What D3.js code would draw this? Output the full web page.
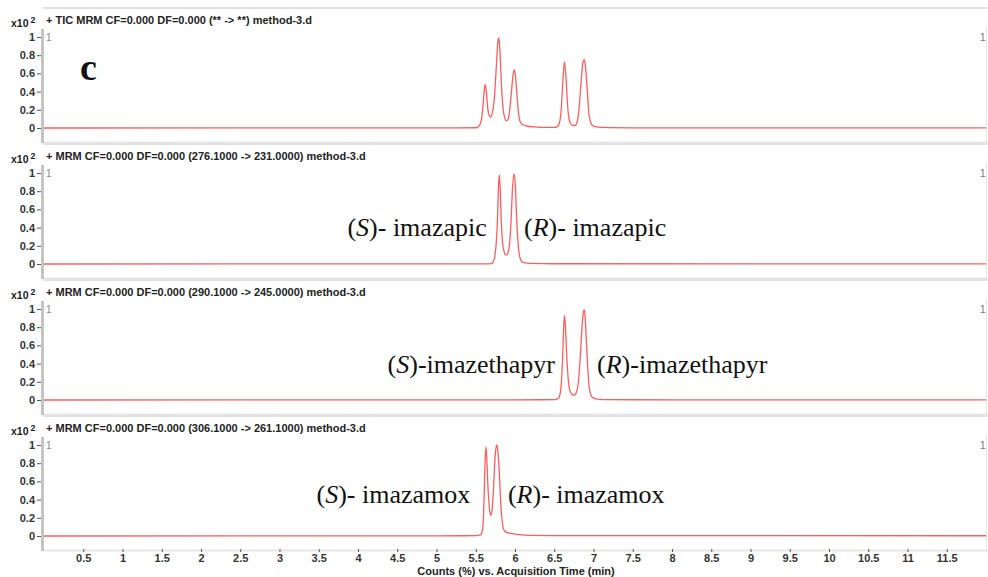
<!DOCTYPE html>
<html>
<head>
<meta charset="utf-8">
<script src="https://cdn.jsdelivr.net/npm/d3@7"></script>
<style>
  body { margin: 0; background: #fff; }
  text { font-family: "Liberation Sans", Arial, sans-serif; }
</style>
</head>
<body>
<div id="chart"></div>
<script>
// panel titles
var titles = [
    "+ TIC MRM CF=0.000 DF=0.000 (** -> **) method-3.d",
    "+ MRM CF=0.000 DF=0.000 (276.1000 -> 231.0000) method-3.d",
    "+ MRM CF=0.000 DF=0.000 (290.1000 -> 245.0000) method-3.d",
    "+ MRM CF=0.000 DF=0.000 (306.1000 -> 261.1000) method-3.d"
];

var xTicks = [0.5,1,1.5,2,2.5,3,3.5,4,4.5,5,5.5,6,6.5,7,7.5,8,8.5,9,9.5,10,10.5,11,11.5];
var yTicks = [0, 0.2, 0.4, 0.6, 0.8, 1];

// traces: [time (min), counts x10^2]
var ticTrace = [
    [0,0],[5.0,0.002],[5.5,0.003],[5.54,0.02],[5.57,0.08],[5.59,0.22],[5.605,0.38],[5.62,0.48],
    [5.635,0.40],[5.65,0.24],[5.67,0.14],[5.69,0.12],[5.71,0.16],[5.74,0.36],[5.765,0.72],
    [5.78,0.93],[5.79,0.99],[5.80,0.95],[5.815,0.72],[5.83,0.42],[5.85,0.20],[5.87,0.11],
    [5.89,0.08],[5.91,0.09],[5.93,0.18],[5.955,0.40],[5.975,0.58],[5.99,0.64],[6.005,0.58],
    [6.025,0.36],[6.045,0.16],[6.07,0.06],[6.10,0.035],[6.15,0.022],[6.25,0.012],[6.40,0.006],
    [6.50,0.006],[6.54,0.015],[6.57,0.07],[6.59,0.22],[6.61,0.52],[6.63,0.73],[6.65,0.55],
    [6.67,0.25],[6.69,0.09],[6.72,0.035],[6.75,0.025],[6.78,0.04],[6.81,0.16],[6.84,0.48],
    [6.865,0.72],[6.88,0.75],[6.895,0.70],[6.92,0.42],[6.94,0.17],[6.97,0.05],[7.0,0.02],
    [7.05,0.01],[7.2,0.004],[7.5,0.002],[12,0.002]
];
var imazapicTrace = [
    [0,0],[5.0,0.002],[5.6,0.002],[5.70,0.005],[5.72,0.02],[5.74,0.07],[5.76,0.22],[5.775,0.45],
    [5.79,0.85],[5.80,0.98],[5.81,0.85],[5.825,0.48],[5.84,0.25],[5.86,0.14],[5.88,0.10],
    [5.895,0.10],[5.91,0.12],[5.93,0.22],[5.95,0.48],[5.97,0.86],[5.99,0.99],[6.005,0.86],
    [6.02,0.52],[6.04,0.22],[6.06,0.08],[6.08,0.035],[6.11,0.015],[6.2,0.006],[6.5,0.003],[12,0.002]
];
var imazethapyrTrace = [
    [0,0],[6.0,0.002],[6.50,0.004],[6.55,0.015],[6.575,0.07],[6.595,0.25],[6.61,0.55],[6.62,0.80],
    [6.63,0.93],[6.64,0.84],[6.655,0.56],[6.675,0.26],[6.70,0.10],[6.73,0.06],[6.755,0.055],
    [6.78,0.08],[6.81,0.22],[6.835,0.52],[6.855,0.82],[6.87,0.96],[6.88,0.99],[6.89,0.95],
    [6.905,0.72],[6.925,0.38],[6.945,0.14],[6.97,0.05],[7.0,0.02],[7.05,0.01],[7.2,0.004],
    [8,0.002],[12,0.002]
];
var imazamoxTrace = [
    [0,0],[5.0,0.002],[5.50,0.004],[5.56,0.012],[5.585,0.06],[5.60,0.25],[5.61,0.55],[5.62,0.85],
    [5.63,0.98],[5.64,0.86],[5.655,0.55],[5.67,0.34],[5.685,0.24],[5.695,0.23],[5.71,0.30],
    [5.725,0.50],[5.74,0.78],[5.755,0.95],[5.77,1.0],[5.785,0.90],[5.80,0.70],[5.815,0.42],
    [5.83,0.22],[5.845,0.11],[5.86,0.065],[5.88,0.045],[5.95,0.028],[6.05,0.015],[6.2,0.006],
    [6.5,0.004],[12,0.003]
];
var traces = [ticTrace, imazapicTrace, imazethapyrTrace, imazamoxTrace];

// compound labels: [italic letter, rest, anchor time, anchor side, height]
var labels = [
    [],
    [["S", ")- imazapic", 5.64, "end", 0.31], ["R", ")- imazapic", 6.115, "start", 0.31]],
    [["S", ")-imazethapyr", 6.51, "end", 0.30], ["R", ")-imazethapyr", 7.045, "start", 0.30]],
    [["S", ")- imazamox", 5.43, "end", 0.36], ["R", ")- imazamox", 5.91, "start", 0.36]]
];

var width = 988, height = 577;
var panelStep = 136;
var serif = "'Liberation Serif', 'Times New Roman', Times, serif";

var svg = d3.select("#chart")
            .append("svg")
            .attr("width", width)
            .attr("height", height);

var x = d3.scaleLinear()
        .domain([0, 12])
        .range([44, 986]);

var line_color = "#ff5c5c";

for (var i = 0; i < traces.length; i++) {
    var off = i * panelStep;
    var g = svg.append("g");

    var y = d3.scaleLinear()
            .domain([0, 1])
            .range([128 + off, 37 + off]);

    // frame lines
    g.append("line")
        .attr("x1", 43).attr("x2", 988)
        .attr("y1", 8 + off).attr("y2", 8 + off)
        .attr("stroke", "#e2e2e2").attr("stroke-width", 2);
    g.append("line")
        .attr("x1", 43).attr("x2", 988)
        .attr("y1", 142.5 + off).attr("y2", 142.5 + off)
        .attr("stroke", "#e6e6e6").attr("stroke-width", 2);
    g.append("line")
        .attr("x1", 986.5).attr("x2", 986.5)
        .attr("y1", 28 + off).attr("y2", 142 + off)
        .attr("stroke", "#e6e6e6").attr("stroke-width", 1);

    // header
    g.append("text")
        .attr("x", 46).attr("y", 24 + off)
        .attr("font-size", "11px").attr("font-weight", "bold")
        .attr("fill", "#222")
        .text(titles[i]);
    var xt = g.append("text")
        .attr("x", 11).attr("y", 27 + off)
        .attr("font-size", "10.5px").attr("font-weight", "bold")
        .attr("fill", "#222");
    xt.append("tspan").text("x10");
    xt.append("tspan").attr("dx", 2).attr("dy", -4).attr("font-size", "9px").text("2");

    // left axis
    g.append("rect")
        .attr("x", 41).attr("y", 29 + off)
        .attr("width", 3).attr("height", 114)
        .attr("fill", "#c4c4c4");
    var ax = g.append("g")
        .attr("transform", "translate(41,0)")
        .call(d3.axisLeft(y).tickValues(yTicks).tickSize(4).tickPadding(2)
              .tickFormat(function(d) { return String(d); }));
    ax.select(".domain").remove();
    ax.selectAll(".tick line").attr("stroke", "#555");
    ax.selectAll(".tick text")
        .attr("font-size", "11px").attr("font-weight", "bold")
        .attr("fill", "#333")
        .style("font-family", "'Liberation Sans', Arial, sans-serif");

    // small "1" markers
    g.append("text")
        .attr("x", 46).attr("y", 41 + off)
        .attr("font-size", "10px").attr("fill", "#888")
        .text("1");
    g.append("text")
        .attr("x", 980).attr("y", 41 + off)
        .attr("font-size", "10px").attr("fill", "#777")
        .text("1");

    var valueline = d3.line()
                    .x(function(d) { return x(d[0]); })
                    .y(function(d) { return y(d[1]); })
                    .curve(d3.curveMonotoneX);

    g.append("path")
        .datum(traces[i])
        .attr("d", valueline)
        .attr("fill", "none")
        .attr("stroke", line_color)
        .attr("stroke-width", 1.3);

    labels[i].forEach(function(l) {
        var t = g.append("text")
            .attr("x", x(l[2]))
            .attr("y", y(l[4]))
            .attr("text-anchor", l[3])
            .style("font-family", serif)
            .style("font-size", "26px")
            .attr("fill", "#111");
        t.append("tspan").text("(");
        t.append("tspan").style("font-style", "italic").text(l[0]);
        t.append("tspan").text(l[1]);
    });
}

// panel label
svg.append("text")
    .attr("x", 80).attr("y", 80)
    .style("font-family", serif)
    .style("font-size", "38px").style("font-weight", "bold")
    .attr("fill", "#111")
    .text("c");

// bottom axis
var bx = svg.append("g")
    .attr("transform", "translate(0,549)")
    .call(d3.axisBottom(x).tickValues(xTicks).tickSize(3).tickPadding(2)
          .tickFormat(function(d) { return String(d); }));
bx.select(".domain").remove();
bx.selectAll(".tick line").attr("stroke", "#555");
bx.selectAll(".tick text")
    .attr("font-size", "11px").attr("font-weight", "bold")
    .attr("fill", "#333")
    .style("font-family", "'Liberation Sans', Arial, sans-serif");

svg.append("text")
    .attr("x", 516).attr("y", 575)
    .attr("text-anchor", "middle")
    .attr("font-size", "11px").attr("font-weight", "bold")
    .attr("fill", "#222")
    .text("Counts (%) vs. Acquisition Time (min)");
</script>
</body>
</html>
